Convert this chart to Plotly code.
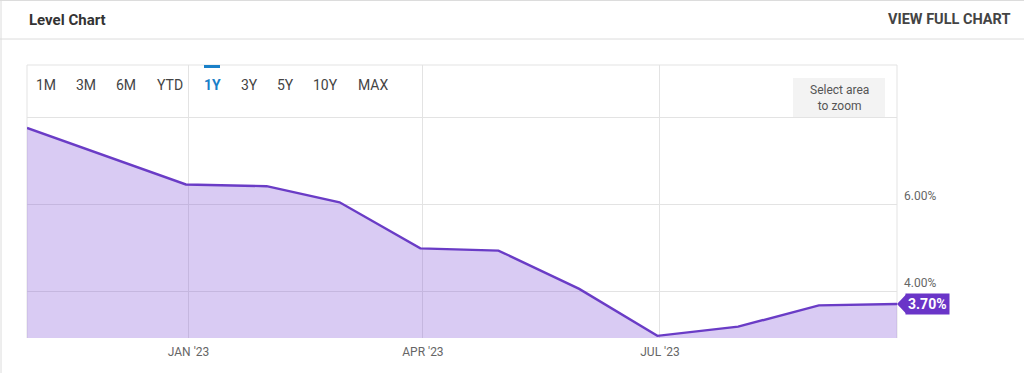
import plotly.graph_objects as go

# ---- data ----
dates = ["2022-10-31", "2022-11-30", "2022-12-31", "2023-01-31", "2023-02-28",
         "2023-03-31", "2023-04-30", "2023-05-31", "2023-06-30", "2023-07-31",
         "2023-08-31", "2023-09-30"]
values = [7.75, 7.11, 6.45, 6.41, 6.04, 4.98, 4.93, 4.05, 2.97, 3.18, 3.67, 3.70]
x_tick_vals = ["2023-01-01", "2023-04-01", "2023-07-01"]
x_tick_text = ["JAN '23", "APR '23", "JUL '23"]
y_tick_vals = [4, 6, 8]
y_tick_text = ["4.00%", "6.00%", ""]
buttons = ["1M", "3M", "6M", "YTD", "1Y", "3Y", "5Y", "10Y", "MAX"]
active_button = "1Y"
last_label = "3.70%"

# ---- geometry helpers (pixel -> paper) ----
L, R, T, B = 27, 897, 65, 338
W, H = 1024, 373


def px(x):
    return (x - L) / (R - L)


def py(y):
    return (B - y) / (B - T)


FONT = "Roboto"
LINE = "#6a3cc6"

fig = go.Figure()
fig.add_trace(go.Scatter(
    x=dates, y=values, mode="lines",
    line=dict(color=LINE, width=2.4),
    fill="tozeroy", fillcolor="rgba(124,77,214,0.29)",
    hoverinfo="skip", showlegend=False,
))

shapes = []
gray = "#e3e3e3"
# card borders & header separator
shapes.append(dict(type="line", xref="paper", yref="paper", x0=px(0), x1=px(W), y0=py(39), y1=py(39),
                   line=dict(color="#dcdcdc", width=1), layer="below"))
shapes.append(dict(type="line", xref="paper", yref="paper", x0=px(1), x1=px(1), y0=py(0), y1=py(H),
                   line=dict(color="#dcdcdc", width=1), layer="below"))
shapes.append(dict(type="line", xref="paper", yref="paper", x0=px(0), x1=px(W), y0=py(0.5), y1=py(0.5),
                   line=dict(color="#dcdcdc", width=1), layer="below"))
# chart frame
shapes.append(dict(type="line", xref="paper", yref="paper", x0=0, x1=1, y0=1, y1=1,
                   line=dict(color=gray, width=1), layer="below"))
shapes.append(dict(type="line", xref="paper", yref="paper", x0=0, x1=0, y0=0, y1=1,
                   line=dict(color=gray, width=1), layer="below"))
shapes.append(dict(type="line", xref="paper", yref="paper", x0=1, x1=1, y0=0, y1=1,
                   line=dict(color=gray, width=1), layer="below"))
# active button indicator
shapes.append(dict(type="rect", xref="paper", yref="paper", x0=px(204), x1=px(220), y0=py(68), y1=py(65),
                   fillcolor="#1a80c8", line=dict(width=0)))
# select area box
shapes.append(dict(type="rect", xref="paper", yref="paper", x0=px(793), x1=px(885), y0=py(117), y1=py(78),
                   fillcolor="#f3f3f3", line=dict(width=0), layer="above"))
# pointer of last-value label
shapes.append(dict(type="path", xref="paper", yref="y", xsizemode="pixel", ysizemode="pixel",
                   xanchor=1, yanchor=values[-1],
                   path="M 0,0 L 9,9.5 L 9,-9.5 Z", fillcolor="#6a35c8", line=dict(width=0)))

annotations = []
annotations.append(dict(text="<b>Level Chart</b>", xref="paper", yref="paper", x=px(27), y=py(20),
                        xanchor="left", yanchor="middle", showarrow=False,
                        font=dict(family=FONT, size=15, color="#333333")))
annotations.append(dict(text="<b>VIEW FULL CHART</b>", xref="paper", yref="paper", x=px(1012), y=py(20),
                        xanchor="right", yanchor="middle", showarrow=False,
                        font=dict(family=FONT, size=14.5, color="#444444")))
btn_x = [46, 86, 126, 170, 212, 249, 285, 325, 373]
for name, bx in zip(buttons, btn_x):
    active = name == active_button
    annotations.append(dict(text=f"<b>{name}</b>" if active else name, xref="paper", yref="paper",
                            x=px(bx), y=py(85), xanchor="center", yanchor="middle", showarrow=False,
                            font=dict(family=FONT, size=14, color="#1a80c8" if active else "#444444")))
annotations.append(dict(text="Select area<br>to zoom", xref="paper", yref="paper", x=px(839), y=py(98),
                        xanchor="center", yanchor="middle", showarrow=False, align="center",
                        font=dict(family=FONT, size=12, color="#555555")))
annotations.append(dict(text=f"<b>{last_label}</b>", xref="paper", yref="y", x=1, y=values[-1],
                        xanchor="left", yanchor="middle", xshift=8, showarrow=False,
                        bgcolor="#6a35c8", borderpad=2,
                        font=dict(family=FONT, size=14, color="#ffffff")))

fig.update_layout(
    width=W, height=H, autosize=False,
    margin=dict(l=L, r=W - R, t=T, b=H - B, pad=0),
    paper_bgcolor="white", plot_bgcolor="white",
    font=dict(family=FONT, color="#666666"),
    shapes=shapes, annotations=annotations,
    hovermode=False,
    xaxis=dict(range=[dates[0], dates[-1]], tickvals=x_tick_vals, ticktext=x_tick_text,
               showgrid=True, gridcolor=gray, gridwidth=1, zeroline=False, showline=False,
               ticks="", ticklabelstandoff=5,
               tickfont=dict(family=FONT, size=12, color="#666666"), fixedrange=True),
    yaxis=dict(range=[2.92, 9.196], side="right", tickvals=y_tick_vals, ticktext=y_tick_text,
               showgrid=True, gridcolor=gray, gridwidth=1, zeroline=False, showline=False,
               ticks="", ticklabelshift=-8, ticklabelstandoff=6,
               tickfont=dict(family=FONT, size=12, color="#666666"), fixedrange=True),
)

fig.write_html("out.html", config=dict(displayModeBar=False, staticPlot=True),
               post_script="document.body.style.margin='0';")
